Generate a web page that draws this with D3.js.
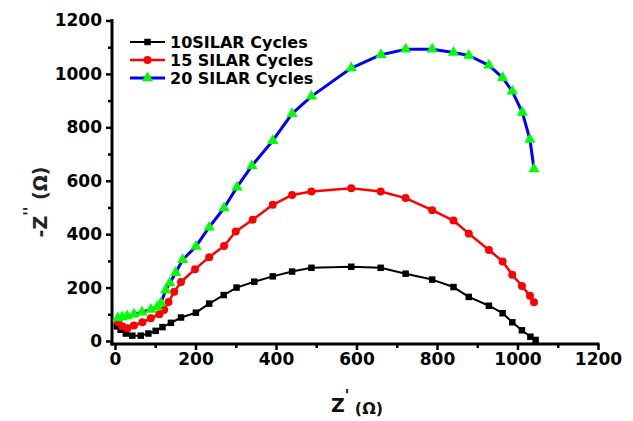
<!DOCTYPE html>
<html>
<head>
<meta charset="utf-8">
<script src="https://cdn.jsdelivr.net/npm/d3@7"></script>
<style>
  body { margin: 0; background: #fff; }
  svg { display: block; }
  .tick text { font-family: "DejaVu Sans", sans-serif; font-weight: bold; }
</style>
</head>
<body>
<svg id="chart"></svg>
<script>
// Nyquist data: [Z', -Z'']
const cycles10 = [
  [5, 55], [14, 42], [27, 28], [43, 20], [64, 20], [83, 28], [101, 38], [118, 52],
  [139, 68], [164, 88], [201, 106], [234, 140], [270, 172], [302, 200], [346, 222],
  [392, 242], [440, 260], [488, 274], [587, 278], [660, 274], [722, 252], [788, 230],
  [841, 202], [879, 165], [929, 132], [963, 104], [987, 70], [1011, 40], [1032, 16], [1045, 4]
];
const cycles15 = [
  [8, 70], [18, 55], [31, 48], [47, 58], [68, 70], [89, 85], [110, 100], [122, 116],
  [133, 146], [147, 184], [164, 221], [199, 269], [234, 314], [271, 356], [300, 410],
  [342, 454], [392, 510], [440, 547], [488, 560], [587, 572], [660, 560], [722, 535],
  [788, 490], [841, 451], [879, 402], [929, 341], [963, 298], [987, 248], [1011, 206],
  [1031, 169], [1041, 145]
];
const cycles20 = [
  [7, 86], [18, 90], [30, 94], [47, 100], [67, 108], [89, 118], [105, 127], [114, 142],
  [126, 190], [136, 217], [151, 256], [168, 304], [201, 354], [234, 426], [271, 498],
  [303, 576], [340, 656], [392, 750], [440, 851], [488, 916], [587, 1022], [661, 1072],
  [722, 1092], [788, 1092], [841, 1080], [879, 1069], [929, 1032], [963, 986], [987, 935],
  [1012, 856], [1031, 754], [1041, 644]
];
const seriesNames = ["10SILAR Cycles", "15 SILAR Cycles", "20 SILAR Cycles"];
const xTicks = [0, 200, 400, 600, 800, 1000, 1200];
const yTicks = [0, 200, 400, 600, 800, 1000, 1200];

const width = 633;
const height = 421;

const svg = d3.select("#chart")
  .attr("width", width)
  .attr("height", height);

// Scales
const xScale = d3.scaleLinear().domain([0, 1200]).range([115, 598]);
const yScale = d3.scaleLinear().domain([0, 1200]).range([341, 20.5]);

// Axes sit a few px outside the data origin, like the original
const xAxisY = yScale(0) + 3;
const yAxisX = xScale(0) - 3;

// minor ticks first
svg.append("g")
  .attr("transform", `translate(0,${xAxisY})`)
  .call(d3.axisBottom(xScale).tickValues(d3.range(100, 1200, 200)).tickSize(4).tickFormat(""))
  .call(g => g.select(".domain").remove())
  .call(g => g.selectAll("line").attr("stroke-width", 2.5));

svg.append("g")
  .attr("transform", `translate(${yAxisX},0)`)
  .call(d3.axisLeft(yScale).tickValues(d3.range(100, 1200, 200)).tickSize(4).tickFormat(""))
  .call(g => g.select(".domain").remove())
  .call(g => g.selectAll("line").attr("stroke-width", 2.5));

const xAxis = svg.append("g")
  .attr("transform", `translate(0,${xAxisY})`)
  .call(d3.axisBottom(xScale).tickValues(xTicks).tickFormat(d3.format("d"))
    .tickSize(6).tickSizeOuter(0).tickPadding(3));

const yAxis = svg.append("g")
  .attr("transform", `translate(${yAxisX},0)`)
  .call(d3.axisLeft(yScale).tickValues(yTicks).tickFormat(d3.format("d"))
    .tickSize(6).tickSizeOuter(0).tickPadding(4));

[xAxis, yAxis].forEach(ax => {
  ax.select(".domain").attr("stroke-width", 3);
  ax.selectAll(".tick line").attr("stroke-width", 2.5);
  ax.selectAll(".tick text").attr("font-size", 17).attr("fill", "#000");
});
// stretch axis lines so they meet at the corner
xAxis.select(".domain").attr("d", `M${yAxisX - 1.5},0H${xScale(1200) + 1.5}`);
yAxis.select(".domain").attr("d", `M0,${yScale(1200) - 1.5}V${xAxisY + 1.5}`);

// Series
const line = d3.line()
  .x(d => xScale(d[0]))
  .y(d => yScale(d[1]));

const series = [
  { name: seriesNames[0], data: cycles10, stroke: "#000000", fill: "#000000", width: 2, marker: d3.symbolSquare, size: 42 },
  { name: seriesNames[1], data: cycles15, stroke: "#ff0000", fill: "#ff0000", width: 2.5, marker: d3.symbolCircle, size: 50 },
  { name: seriesNames[2], data: cycles20, stroke: "#0000ff", fill: "#00ff00", width: 3, marker: d3.symbolTriangle, size: 55 }
];

series.forEach(s => {
  svg.append("path")
    .datum(s.data)
    .attr("fill", "none")
    .attr("stroke", s.stroke)
    .attr("stroke-width", s.width)
    .attr("stroke-linejoin", "round")
    .attr("d", line);

  svg.append("g")
    .selectAll("path")
    .data(s.data)
    .join("path")
    .attr("transform", d => `translate(${xScale(d[0])},${yScale(d[1])})`)
    .attr("d", d3.symbol().type(s.marker).size(s.size))
    .attr("fill", s.fill);
});

// Legend
const legend = svg.append("g");
series.forEach((s, i) => {
  const y = 42 + i * 18;
  legend.append("line")
    .attr("x1", 130).attr("x2", 165)
    .attr("y1", y).attr("y2", y)
    .attr("stroke", s.stroke)
    .attr("stroke-width", s.width);
  legend.append("path")
    .attr("transform", `translate(147.5,${y})`)
    .attr("d", d3.symbol().type(s.marker).size(s.size))
    .attr("fill", s.fill);
  legend.append("text")
    .attr("x", 170)
    .attr("y", y)
    .attr("dy", "0.36em")
    .attr("font-family", "DejaVu Sans, sans-serif")
    .attr("font-weight", "bold")
    .attr("font-size", 16)
    .text(s.name);
});

// Axis titles
const xTitle = svg.append("text")
  .attr("x", 357)
  .attr("y", 412)
  .attr("text-anchor", "middle")
  .attr("font-family", "DejaVu Sans, sans-serif")
  .attr("font-weight", "bold")
  .attr("fill", "#111");
xTitle.append("tspan").attr("font-size", 19).text("Z");
xTitle.append("tspan").attr("font-size", 15).attr("dy", -11).text("'");
xTitle.append("tspan").attr("font-size", 16).attr("dy", 13).text(" (Ω)");

const yTitle = svg.append("text")
  .attr("transform", "translate(47,202) rotate(-90)")
  .attr("text-anchor", "middle")
  .attr("font-family", "DejaVu Sans, sans-serif")
  .attr("font-weight", "bold")
  .attr("fill", "#222");
yTitle.append("tspan").attr("font-size", 19).text("-Z");
yTitle.append("tspan").attr("font-size", 15).attr("dy", -12).text("''");
yTitle.append("tspan").attr("font-size", 19).attr("dy", 12).text(" (Ω)");
</script>
</body>
</html>
